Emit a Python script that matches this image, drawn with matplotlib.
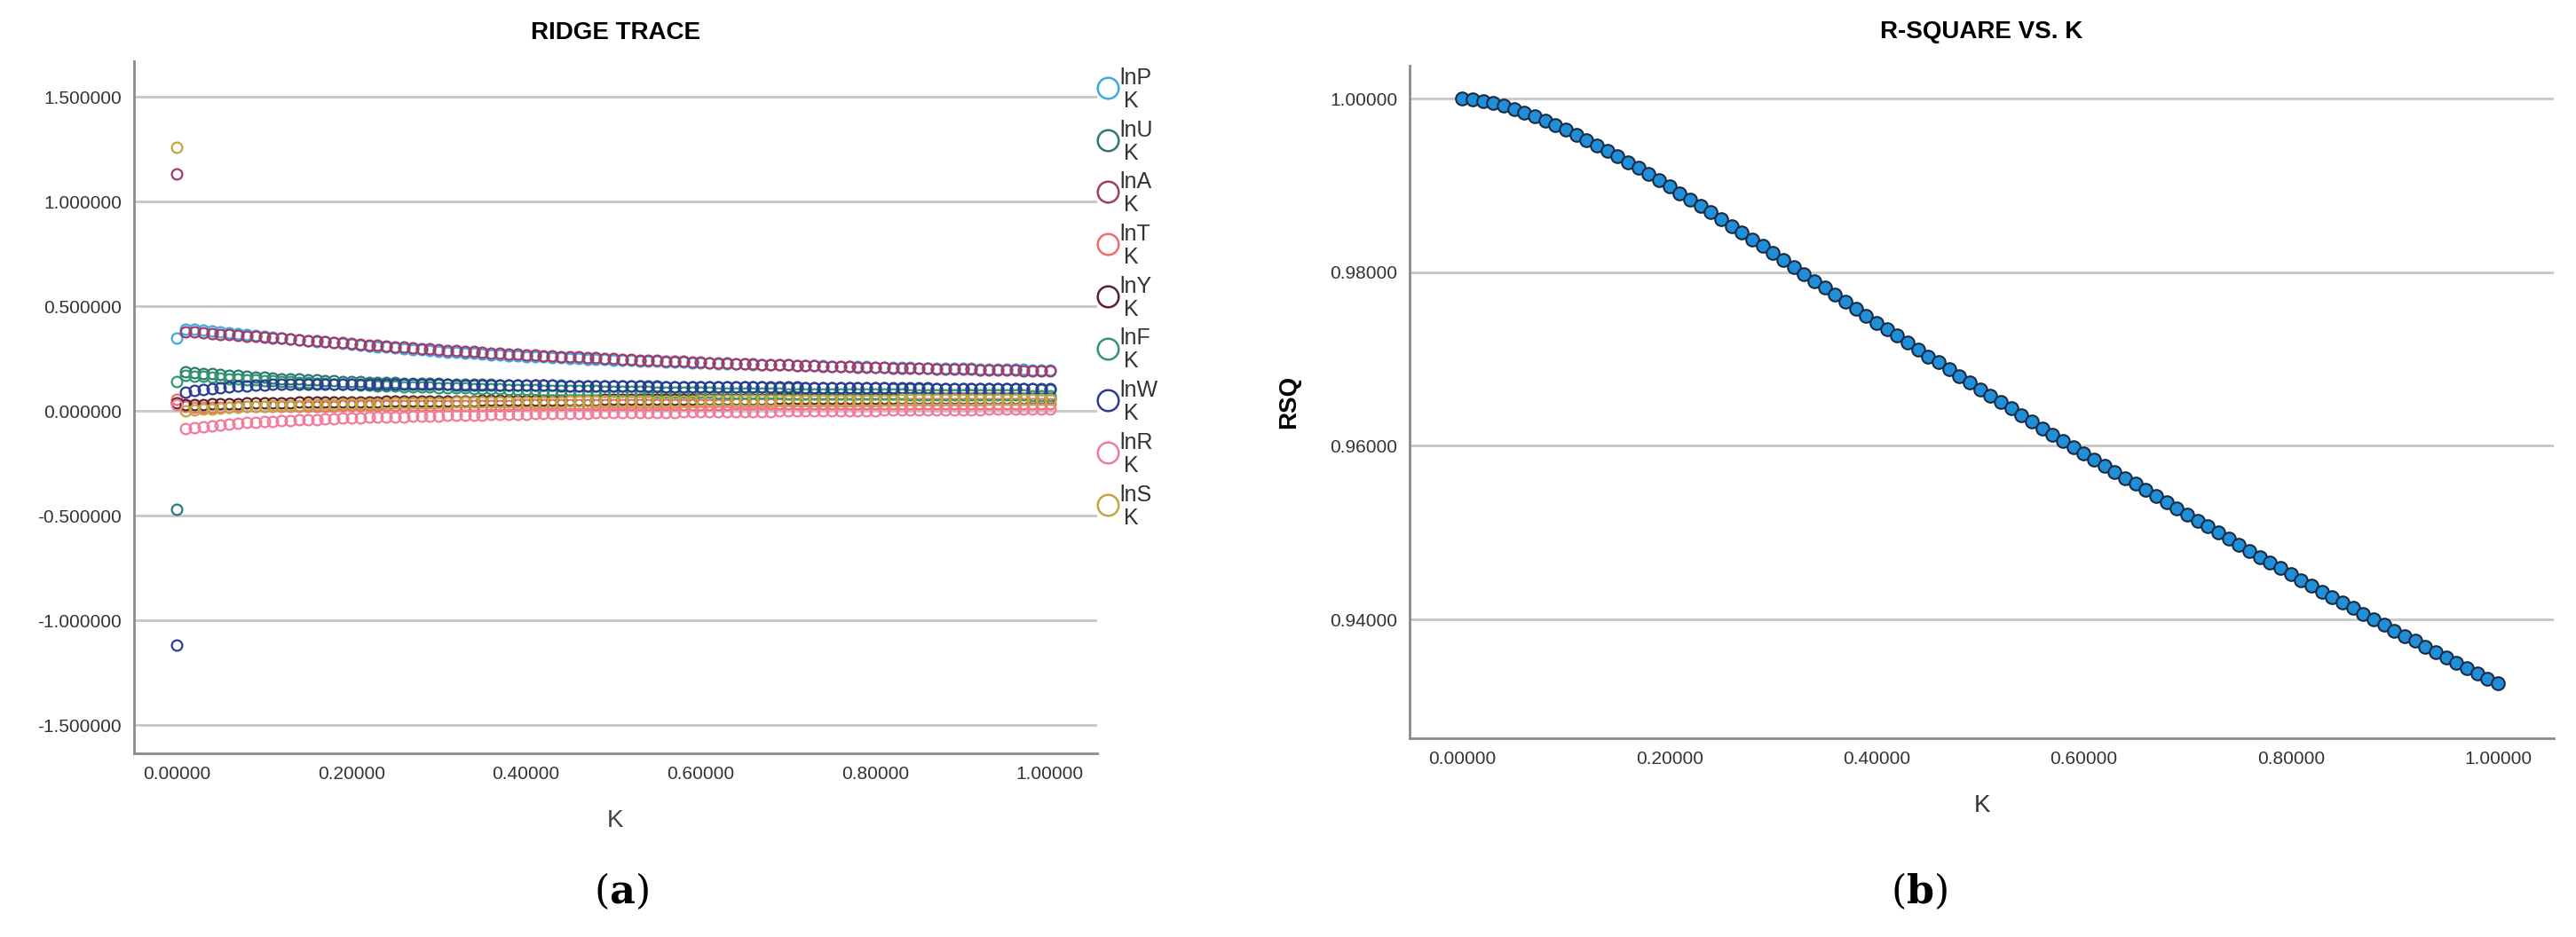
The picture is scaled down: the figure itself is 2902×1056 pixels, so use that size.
import numpy as np
import matplotlib.pyplot as plt
from matplotlib.lines import Line2D

plt.rcParams['font.family'] = ['Liberation Sans', 'DejaVu Sans']
plt.rcParams['mathtext.fontset'] = 'dejavuserif'

# ridge parameter K, 0.00 .. 1.00 step 0.01
K = [round(i * 0.01, 2) for i in range(101)]

# standardized ridge coefficients (first value is K=0)
lnP = [.350,
       .392, .389, .385, .381, .377, .373, .369, .365, .361, .357,
       .353, .349, .345, .341, .337, .333, .329, .325, .321, .318,
       .314, .311, .307, .304, .300, .297, .294, .291, .288, .285,
       .282, .279, .277, .274, .272, .269, .267, .265, .263, .261,
       .259, .257, .255, .253, .251, .250, .248, .246, .245, .243,
       .242, .240, .239, .237, .236, .235, .233, .232, .231, .230,
       .229, .227, .226, .225, .224, .223, .222, .221, .220, .219,
       .218, .217, .216, .215, .214, .213, .212, .212, .211, .210,
       .209, .208, .207, .207, .206, .205, .204, .204, .203, .202,
       .202, .201, .200, .200, .199, .198, .198, .197, .197, .196]
lnU = [-.470,
       .185, .183, .180, .177, .174, .171, .168, .165, .162, .160,
       .157, .155, .153, .151, .149, .147, .145, .144, .142, .141,
       .139, .138, .137, .136, .135, .134, .133, .132, .131, .130,
       .129, .129, .128, .127, .127, .126, .125, .125, .124, .124,
       .123, .123, .122, .122, .121, .121, .120, .120, .119, .119,
       .118, .118, .118, .117, .117, .116, .116, .116, .115, .115,
       .115, .114, .114, .114, .113, .113, .113, .112, .112, .112,
       .111, .111, .111, .111, .110, .110, .110, .109, .109, .109,
       .109, .108, .108, .108, .108, .107, .107, .107, .107, .106,
       .106, .106, .106, .106, .105, .105, .105, .105, .104, .104]
lnA = [1.130,
       .378, .376, .373, .370, .367, .364, .361, .358, .355, .352,
       .349, .346, .343, .340, .337, .334, .331, .328, .325, .322,
       .319, .316, .313, .310, .307, .304, .301, .298, .296, .293,
       .290, .288, .285, .283, .280, .278, .276, .273, .271, .269,
       .267, .265, .263, .261, .259, .257, .255, .253, .251, .249,
       .247, .246, .244, .242, .241, .239, .237, .236, .234, .233,
       .231, .230, .228, .227, .226, .224, .223, .222, .220, .219,
       .218, .217, .215, .214, .213, .212, .211, .210, .209, .208,
       .207, .206, .205, .204, .203, .202, .201, .200, .199, .198,
       .198, .197, .196, .195, .194, .194, .193, .192, .191, .191]
lnT = [.055,
       .020, .019, .019, .019, .019, .019, .020, .020, .020, .021,
       .021, .021, .022, .022, .022, .023, .023, .023, .024, .024,
       .024, .025, .025, .025, .025, .026, .026, .026, .026, .027,
       .027, .027, .027, .028, .028, .028, .028, .028, .029, .029,
       .029, .029, .029, .030, .030, .030, .030, .030, .030, .031,
       .031, .031, .031, .031, .031, .031, .032, .032, .032, .032,
       .032, .032, .032, .033, .033, .033, .033, .033, .033, .033,
       .033, .033, .034, .034, .034, .034, .034, .034, .034, .034,
       .034, .034, .035, .035, .035, .035, .035, .035, .035, .035,
       .035, .035, .035, .035, .036, .036, .036, .036, .036, .036]
lnY = [.040,
       .030, .031, .032, .033, .034, .035, .036, .037, .037, .038,
       .039, .039, .040, .041, .041, .042, .042, .043, .043, .044,
       .044, .045, .045, .046, .046, .046, .047, .047, .048, .048,
       .048, .049, .049, .049, .050, .050, .050, .051, .051, .051,
       .052, .052, .052, .052, .053, .053, .053, .053, .054, .054,
       .054, .054, .055, .055, .055, .055, .055, .056, .056, .056,
       .056, .056, .057, .057, .057, .057, .057, .057, .058, .058,
       .058, .058, .058, .058, .058, .059, .059, .059, .059, .059,
       .059, .059, .059, .060, .060, .060, .060, .060, .060, .060,
       .060, .060, .061, .061, .061, .061, .061, .061, .061, .061]
lnF = [.140,
       .170, .167, .164, .161, .158, .155, .152, .150, .147, .145,
       .143, .141, .139, .137, .135, .133, .131, .129, .128, .126,
       .124, .123, .121, .120, .118, .117, .116, .114, .113, .112,
       .111, .110, .109, .108, .107, .106, .105, .104, .103, .102,
       .101, .100, .099, .099, .098, .097, .096, .096, .095, .094,
       .094, .093, .092, .092, .091, .090, .090, .089, .089, .088,
       .088, .087, .087, .086, .086, .085, .085, .084, .084, .083,
       .083, .083, .082, .082, .081, .081, .081, .080, .080, .080,
       .079, .079, .079, .078, .078, .078, .077, .077, .077, .077,
       .076, .076, .076, .075, .075, .075, .075, .074, .074, .074]
lnW = [-1.120,
       .090, .097, .103, .108, .112, .116, .119, .121, .123, .125,
       .126, .127, .128, .128, .129, .129, .129, .129, .129, .129,
       .129, .128, .128, .128, .128, .127, .127, .127, .126, .126,
       .126, .125, .125, .125, .124, .124, .124, .123, .123, .123,
       .122, .122, .122, .121, .121, .121, .120, .120, .120, .119,
       .119, .119, .118, .118, .118, .117, .117, .117, .116, .116,
       .116, .115, .115, .115, .115, .114, .114, .114, .113, .113,
       .113, .112, .112, .112, .112, .111, .111, .111, .110, .110,
       .110, .110, .109, .109, .109, .109, .108, .108, .108, .108,
       .107, .107, .107, .107, .106, .106, .106, .106, .105, .105]
lnR = [.030,
       -.085, -.079, -.074, -.070, -.066, -.062, -.059, -.056, -.054, -.051,
       -.049, -.047, -.045, -.043, -.041, -.040, -.038, -.037, -.035, -.034,
       -.033, -.031, -.030, -.029, -.028, -.027, -.026, -.025, -.024, -.023,
       -.022, -.021, -.020, -.019, -.019, -.018, -.017, -.016, -.016, -.015,
       -.014, -.014, -.013, -.012, -.012, -.011, -.011, -.010, -.010, -.009,
       -.009, -.008, -.008, -.007, -.007, -.006, -.006, -.005, -.005, -.005,
       -.004, -.004, -.003, -.003, -.003, -.002, -.002, -.002, -.001, -.001,
       -.001, .000, .000, .000, .001, .001, .001, .002, .002, .002,
       .003, .003, .003, .004, .004, .004, .005, .005, .005, .006,
       .006, .006, .007, .007, .007, .008, .008, .008, .009, .009]
lnS = [1.260,
       .000, .004, .008, .011, .014, .016, .018, .020, .022, .023,
       .025, .026, .027, .028, .029, .030, .031, .032, .033, .034,
       .034, .035, .036, .036, .037, .038, .038, .039, .039, .040,
       .040, .041, .041, .042, .042, .043, .043, .043, .044, .044,
       .044, .045, .045, .045, .046, .046, .046, .047, .047, .047,
       .047, .048, .048, .048, .048, .049, .049, .049, .049, .050,
       .050, .050, .050, .050, .051, .051, .051, .051, .051, .052,
       .052, .052, .052, .052, .052, .053, .053, .053, .053, .053,
       .053, .053, .054, .054, .054, .054, .054, .054, .054, .055,
       .055, .055, .055, .055, .055, .055, .055, .056, .056, .056]

# R-square for each K
RSQ = [1.0000, 0.9999, 0.9997, 0.9995, 0.9992, 0.9988, 0.9984, 0.9980, 0.9975, 0.9970, 0.9964,
       0.9958, 0.9952, 0.9946, 0.9940, 0.9934, 0.9927, 0.9920, 0.9913, 0.9906, 0.9899,
       0.9891, 0.9884, 0.9876, 0.9869, 0.9861, 0.9853, 0.9846, 0.9838, 0.9830, 0.9822,
       0.9814, 0.9806, 0.9798, 0.9790, 0.9782, 0.9774, 0.9766, 0.9758, 0.9750, 0.9742,
       0.9734, 0.9727, 0.9719, 0.9711, 0.9703, 0.9696, 0.9688, 0.9680, 0.9673, 0.9665,
       0.9658, 0.9650, 0.9643, 0.9635, 0.9628, 0.9620, 0.9613, 0.9606, 0.9598, 0.9591,
       0.9584, 0.9577, 0.9570, 0.9563, 0.9556, 0.9549, 0.9542, 0.9535, 0.9528, 0.9521,
       0.9514, 0.9507, 0.9500, 0.9493, 0.9486, 0.9479, 0.9472, 0.9465, 0.9459, 0.9452,
       0.9445, 0.9439, 0.9432, 0.9426, 0.9419, 0.9413, 0.9406, 0.9400, 0.9394, 0.9387,
       0.9381, 0.9375, 0.9368, 0.9362, 0.9356, 0.9350, 0.9344, 0.9338, 0.9332, 0.9326]

names = ["lnP", "lnU", "lnA", "lnT", "lnY", "lnF", "lnW", "lnR", "lnS"]
series = [lnP, lnU, lnA, lnT, lnY, lnF, lnW, lnR, lnS]
colors = ["#3FA9DF", "#2E7873", "#A23B6A", "#F56B6B", "#5A2230",
          "#2E9A6A", "#2A3C96", "#F47A9A", "#C4A640"]

W, H = 2902, 1056
GRID = "#C8C8C8"
SPINE = "#8A8A8A"


def px_axes(fig, x0, y0, x1, y1):
    return fig.add_axes([x0 / W, 1 - y1 / H, (x1 - x0) / W, (y1 - y0) / H])


def style(ax):
    for s in ("top", "right"):
        ax.spines[s].set_visible(False)
    for s in ("left", "bottom"):
        ax.spines[s].set_color(SPINE)
        ax.spines[s].set_linewidth(2)
    ax.yaxis.grid(True, color=GRID, linewidth=2)
    ax.set_axisbelow(True)
    ax.tick_params(length=0, labelsize=15, colors="#333333", pad=10)


fig = plt.figure(figsize=(W / 100, H / 100), dpi=100)

# (a) ridge trace
ax = px_axes(fig, 151, 69, 1236, 849)
style(ax)
for name, vals, c in zip(names, series, colors):
    ax.plot(K, vals, linestyle="none", marker="o", markersize=8.5,
            markerfacecolor="none", markeredgecolor=c, markeredgewidth=1.6)
ax.set_xlim(-0.049, 1.054)
ax.set_ylim(-1.635, 1.67)
ax.set_yticks([-1.5, -1.0, -0.5, 0.0, 0.5, 1.0, 1.5])
ax.set_yticklabels([f"{v:.6f}" for v in ax.get_yticks()])
ax.set_xticks([0, 0.2, 0.4, 0.6, 0.8, 1.0])
ax.set_xticklabels([f"{v:.5f}" for v in ax.get_xticks()])
ax.set_title("RIDGE TRACE", fontsize=20, fontweight="bold", pad=18)
ax.set_xlabel("K", fontsize=20, color="#444444", labelpad=22)

# manual legend to the right of the plot
for i, (name, c) in enumerate(zip(names, colors)):
    yy = 1 - (99 + i * 58.7) / H
    fig.add_artist(Line2D([1248 / W], [yy], transform=fig.transFigure,
                          marker="o", markersize=17, markerfacecolor="none",
                          markeredgecolor=c, markeredgewidth=1.8, linestyle="none"))
    fig.text(1261 / W, yy + 11 / H, name, fontsize=18, color="#333333", va="center")
    fig.text(1266 / W, yy - 15 / H, "K", fontsize=18, color="#333333", va="center")

# (b) R-square vs K
ax2 = px_axes(fig, 1588, 74, 2877, 832)
style(ax2)
ax2.plot(K, RSQ, linestyle="none", marker="o", markersize=10.5,
         markerfacecolor="#1F8FDA", markeredgecolor="#1A2A40", markeredgewidth=1.5)
ax2.set_xlim(-0.051, 1.054)
ax2.set_ylim(0.9263, 1.0038)
ax2.set_yticks([0.94, 0.96, 0.98, 1.0])
ax2.set_yticklabels([f"{v:.5f}" for v in ax2.get_yticks()])
ax2.set_xticks([0, 0.2, 0.4, 0.6, 0.8, 1.0])
ax2.set_xticklabels([f"{v:.5f}" for v in ax2.get_xticks()])
ax2.set_title("R-SQUARE VS. K", fontsize=20, fontweight="bold", pad=22)
ax2.set_xlabel("K", fontsize=20, color="#333333", labelpad=22)
ax2.set_ylabel("RSQ", fontsize=20, fontweight="bold", labelpad=24)

fig.text(700 / W, 1 - 1004 / H, r"($\mathbf{a}$)", fontsize=32, family="DejaVu Serif",
         ha="center", va="center")
fig.text(2162 / W, 1 - 1004 / H, r"($\mathbf{b}$)", fontsize=32, family="DejaVu Serif",
         ha="center", va="center")

fig.savefig("out.png", dpi=100)
